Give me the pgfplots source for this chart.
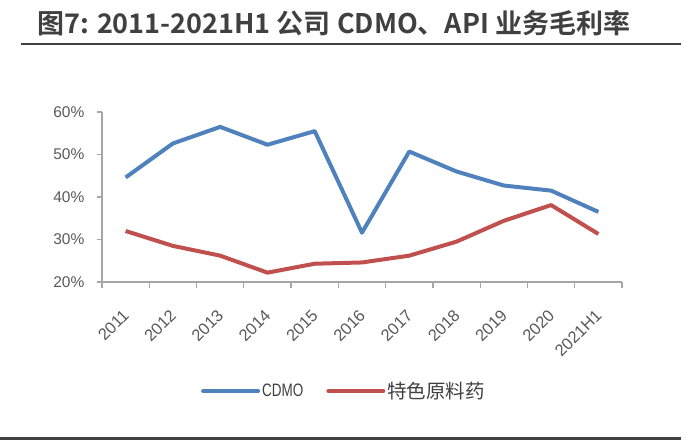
\documentclass[border=0pt]{standalone}
\usepackage{pgfplots}
\pgfplotsset{compat=1.18}
\usepackage{fontspec}
\setmainfont{Liberation Sans}
\newfontfamily\cjk{Noto Sans CJK SC}
\newfontfamily\cjkb{Noto Sans CJK SC Bold}
\newfontfamily\narrow[FakeStretch=0.75]{Liberation Sans}
\definecolor{cblue}{HTML}{4F81BD}
\definecolor{cred}{HTML}{C0504D}
\definecolor{axgray}{HTML}{A6A6A6}
\definecolor{txtgray}{HTML}{595959}
\definecolor{ttl}{HTML}{404040}
\begin{document}
\begin{tikzpicture}
\useasboundingbox (0,0) rectangle (693pt,440pt);
\node[anchor=base west, inner sep=0pt, text=ttl, font=\cjkb\fontsize{27}{30}\selectfont] at (37pt,406pt) {图7: 2011-2021H1 公司 CDMO、API 业务毛利率};
\draw[ttl, line width=2.5pt] (21pt,396pt) -- (681pt,396pt);
\draw[ttl, line width=3pt] (0pt,1.5pt) -- (681pt,1.5pt);
\begin{axis}[
  at={(102pt,158pt)}, anchor=south west,
  scale only axis, width=520pt, height=170pt,
  xmin=0, xmax=11, ymin=20, ymax=60,
  axis lines*=left,
  axis line style={draw=axgray, line width=1.2pt},
  xtick={0,1,...,11},
  xticklabels={2011,2012,2013,2014,2015,2016,2017,2018,2019,2020,2021H1,{}},
  ytick={20,30,...,60},
  yticklabel={\pgfmathprintnumber{\tick}\%},
  /pgf/number format/assume math mode=true,
  tick align=outside,
  major tick length=5.5pt,
  tick style={draw=axgray, line width=1.2pt},
  ticklabel style={font=\fontsize{15.5}{18}\selectfont, text=txtgray, inner sep=0pt},
  xticklabel style={font=\fontsize{16.5}{18}\selectfont, xshift=24pt, yshift=-25pt, rotate=45, anchor=east},
  yticklabel style={xshift=-12pt},
  legend style={at={(axis description cs:0.5,0)}, anchor=center, xshift=-18pt, yshift=-109pt,
    draw=none, fill=none, legend columns=2, font=\fontsize{18}{20}\selectfont, text=ttl,
    /tikz/every even column/.append style={column sep=21pt}},
  legend cell align=left,
  legend image code/.code={\draw[#1, line cap=round] (0pt,0pt) -- (55pt,0pt);},
]
\addplot[cblue, line width=4pt, line join=round] coordinates {
(0.5,44.6) (1.5,52.6) (2.5,56.5) (3.5,52.3) (4.5,55.5) (5.5,31.6) (6.5,50.7) (7.5,46.0) (8.5,42.7) (9.5,41.5) (10.5,36.5)};
\addlegendentry{\narrow CDMO}
\addplot[cred, line width=4pt, line join=round] coordinates {
(0.5,32.0) (1.5,28.5) (2.5,26.2) (3.5,22.2) (4.5,24.3) (5.5,24.6) (6.5,26.2) (7.5,29.5) (8.5,34.4) (9.5,38.1) (10.5,31.3)};
\addlegendentry{\cjk\fontsize{19.5}{21}\selectfont 特色原料药}
\end{axis}
\end{tikzpicture}
\end{document}
